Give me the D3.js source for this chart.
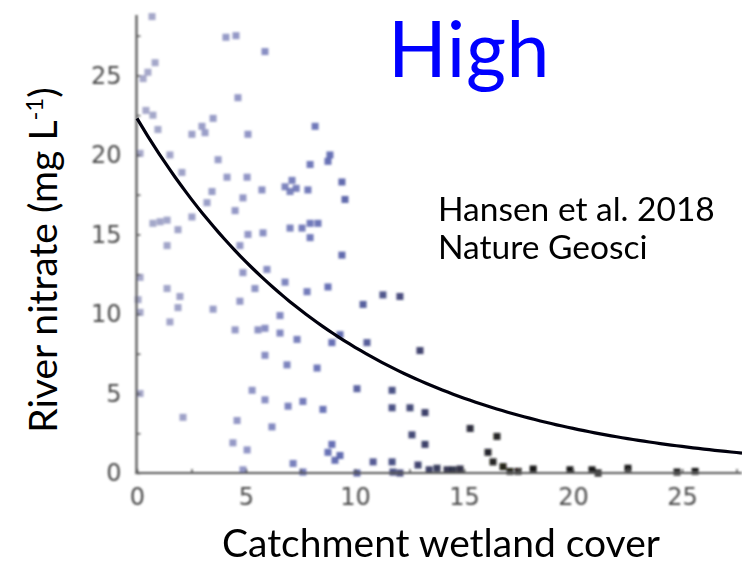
<!DOCTYPE html>
<html>
<head>
<meta charset="utf-8">
<script src="https://cdn.jsdelivr.net/npm/d3@7"></script>
<style>
  html, body { margin: 0; padding: 0; background: #fff; }
  svg { display: block; }
</style>
</head>
<body>
<svg id="chart" width="742" height="564"></svg>
<script>
// Catchment wetland cover (%) for each river catchment
const wetland = [
  0.69, 4.08, 4.54, 5.87, 0.83, 0.50, 0.28, 4.63, 0.41, 0.73,
  3.49, 2.98, 0.96, 3.12, 2.52, 5.09, 0.14, 1.51, 3.72, 2.06,
  4.13, 5.05, 3.44, 3.21, 4.86, 4.50, 2.52, 0.73, 1.06, 1.38,
  1.88, 5.09, 1.38, 4.72, 0.14, 1.38, 1.97, 1.88, 0.05, 0.14,
  1.51, 3.49, 4.72, 4.86, 5.41, 4.50, 5.55, 0.14, 2.11, 4.59,
  4.40, 5.05, 5.28, 4.86,
  8.17, 8.85, 8.76, 7.94, 7.11, 6.79, 7.02, 7.84, 5.73, 9.40,
  9.54, 7.30, 7.94, 7.02, 7.57, 7.94, 8.30, 5.78, 9.40, 5.96,
  6.79, 7.80, 8.76, 11.28, 12.06, 10.37, 6.56, 5.87, 6.56, 7.34,
  9.31, 8.94, 10.55, 12.98, 5.87, 6.88, 8.26, 10.09, 11.70, 5.87,
  7.61, 6.93, 8.53, 11.70, 12.52, 13.21, 6.19, 12.61, 13.21, 8.94,
  9.31, 8.76, 9.08, 10.83, 11.70, 12.89, 7.16, 7.61, 10.09, 11.74,
  12.06, 13.76, 14.22, 14.50, 13.40, 14.82,
  15.28, 16.51, 16.10, 16.33, 16.79, 17.11, 17.48, 18.17, 19.86, 20.87,
  21.15, 22.52, 24.77, 25.60
];

// River nitrate concentration (mg/L) for the same catchments
const nitrate = [
  28.7, 27.4, 27.5, 26.5, 25.8, 25.2, 24.8, 23.6, 22.8, 22.5,
  22.3, 21.8, 21.6, 21.4, 21.3, 21.3, 20.1, 20.0, 19.7, 18.9,
  18.6, 18.6, 17.7, 17.0, 17.3, 16.5, 16.1, 15.7, 15.8, 15.9,
  15.3, 15.0, 14.3, 14.3, 12.3, 11.6, 11.1, 10.4, 10.9, 10.1,
  9.5, 10.3, 10.8, 12.6, 11.6, 9.0, 9.0, 5.0, 3.5, 3.3,
  1.9, 1.45, 5.2, 0.2,
  21.8, 20.0, 19.6, 19.4, 18.4, 18.0, 17.7, 17.8, 17.8, 18.3,
  17.2, 17.9, 15.7, 15.4, 15.4, 14.8, 15.7, 15.1, 13.7, 12.8,
  12.0, 11.4, 11.7, 11.2, 11.1, 10.6, 9.9, 9.1, 8.8, 8.4,
  8.7, 8.2, 8.2, 7.7, 7.4, 6.8, 6.6, 5.3, 5.2, 4.6,
  4.5, 4.2, 4.0, 4.1, 4.1, 3.8, 2.9, 2.4, 1.8, 1.8,
  1.1, 1.3, 0.8, 0.7, 0.7, 0.5, 0.6, 0.06, 0.0, 0.06,
  0.0, 0.3, 0.2, 0.2, 0.2, 0.25,
  2.8, 2.3, 1.3, 0.7, 0.4, 0.1, 0.1, 0.25, 0.2, 0.2,
  0.0, 0.3, 0.06, 0.1
];

// Exponential fit: nitrate = a * exp(-b * wetland)
const fitA = 22.3;
const fitB = 0.1037;

const xTicks = [0, 2.5, 5, 7.5, 10, 12.5, 15, 17.5, 20, 22.5, 25, 27.5];
const yTicks = [0, 2.5, 5, 7.5, 10, 12.5, 15, 17.5, 20, 22.5, 25, 27.5];

const titleText = "High";
const sourceLines = ["Hansen et al. 2018", "Nature Geosci"];
const xTitle = "Catchment wetland cover";
const yTitle = "River nitrate (mg L";
const yTitleSup = "-1";

const svg = d3.select("#chart");

const x = d3.scaleLinear().domain([0, 27.75]).range([137, 742]);
const y = d3.scaleLinear().domain([0, 28.8]).range([473, 15]);

const defs = svg.append("defs");
defs.append("filter").attr("id", "soft")
  .attr("x", "-5%").attr("y", "-5%").attr("width", "110%").attr("height", "110%")
  .append("feGaussianBlur").attr("stdDeviation", 0.8);
defs.append("filter").attr("id", "softer")
  .attr("x", "-5%").attr("y", "-5%").attr("width", "110%").attr("height", "110%")
  .append("feGaussianBlur").attr("stdDeviation", 0.4);

const plot = svg.append("g").attr("filter", "url(#soft)");

// point colour deepens with wetland cover
const colour = d3.scaleLinear()
  .domain([0, 5, 9, 13, 16])
  .range(["#9ea1c4", "#868bc0", "#5560ad", "#2c3160", "#141418"]);

const pts = d3.range(wetland.length).map(i => ({ w: wetland[i], n: nitrate[i] }));

plot.append("g").selectAll("rect")
  .data(pts)
  .join("rect")
  .attr("x", d => x(d.w) - 3.5)
  .attr("y", d => y(d.n) - 3.5)
  .attr("width", 7)
  .attr("height", 7)
  .attr("fill", d => colour(d.w))
  .attr("opacity", 0.9);

// axes with inward ticks
const fmt = v => (v % 5 === 0 ? String(v) : "");
const xAxis = d3.axisBottom(x).tickValues(xTicks).tickFormat(fmt)
  .tickSizeInner(-4).tickSizeOuter(0).tickPadding(15);
const yAxis = d3.axisLeft(y).tickValues(yTicks).tickFormat(fmt)
  .tickSizeInner(-4).tickSizeOuter(0).tickPadding(15);

const gx = plot.append("g").attr("transform", "translate(0,473)").call(xAxis);
const gy = plot.append("g").attr("transform", "translate(136.5,0)").call(yAxis);

[gx, gy].forEach(g => {
  g.select(".domain").remove();
  g.selectAll(".tick line").attr("stroke", "#555").attr("stroke-width", 1.5);
  g.selectAll(".tick text")
    .attr("fill", "#4a4a4a")
    .style("font-family", "'DejaVu Sans', sans-serif")
    .style("font-size", "24px");
});

plot.append("line")
  .attr("x1", 136.5).attr("x2", 136.5).attr("y1", 15).attr("y2", 474)
  .attr("stroke", "#555").attr("stroke-width", 2.2);
plot.append("line")
  .attr("x1", 135.5).attr("x2", 742).attr("y1", 473).attr("y2", 473)
  .attr("stroke", "#555").attr("stroke-width", 2.2);

// fitted curve
const curve = d3.range(0, 27.76, 0.25).map(w => ({ w, n: fitA * Math.exp(-fitB * w) }));
svg.append("path")
  .datum(curve)
  .attr("filter", "url(#softer)")
  .attr("fill", "none")
  .attr("stroke", "#05050c")
  .attr("stroke-width", 3.2)
  .attr("d", d3.line().x(d => x(d.w)).y(d => y(d.n)));

// title and annotation
const font = "Lato, 'Open Sans', sans-serif";
svg.append("text")
  .attr("x", 388).attr("y", 77)
  .attr("fill", "#0000ff")
  .style("font-family", font).style("font-size", "77px")
  .style("letter-spacing", "0.6px")
  .text(titleText);

svg.append("g").selectAll("text")
  .data(sourceLines)
  .join("text")
  .attr("x", 438).attr("y", (d, i) => 221 + i * 38)
  .attr("fill", "#000")
  .style("font-family", font).style("font-size", "33.5px")
  .text(d => d);

svg.append("text")
  .attr("x", 441).attr("y", 557)
  .attr("text-anchor", "middle")
  .attr("fill", "#000")
  .style("font-family", font).style("font-size", "39px")
  .text(xTitle);

const yt = svg.append("text")
  .attr("transform", "translate(57,260) rotate(-90)")
  .attr("text-anchor", "middle")
  .attr("fill", "#000")
  .style("font-family", font).style("font-size", "39px");
yt.append("tspan").text(yTitle);
yt.append("tspan").attr("dy", -14).style("font-size", "24px").text(yTitleSup);
yt.append("tspan").attr("dy", 14).text(")");
</script>
</body>
</html>
